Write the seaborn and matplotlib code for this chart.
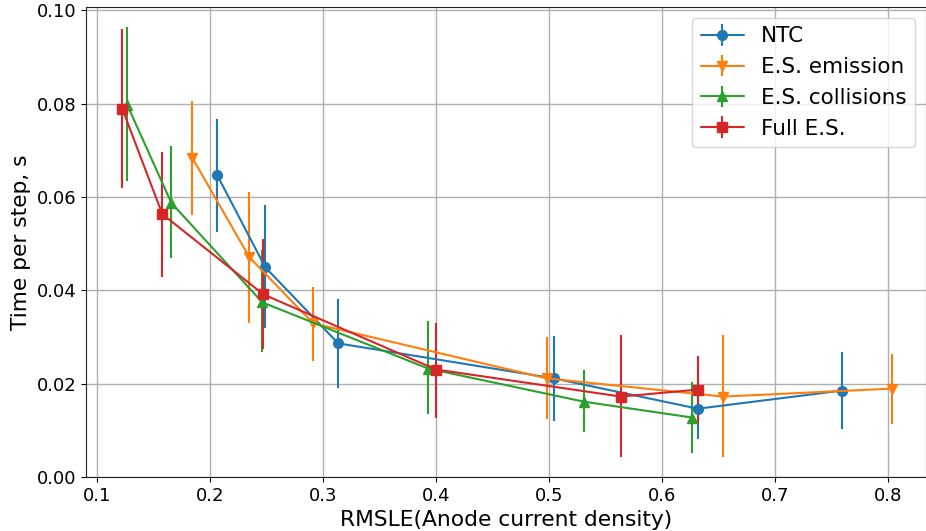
import matplotlib
matplotlib.use("Agg")
import matplotlib.pyplot as plt
import seaborn as sns
import numpy as np

labels = ["NTC", "E.S. emission", "E.S. collisions", "Full E.S."]
markers = ["o", "v", "^", "s"]

ntc_x = [0.206, 0.2487, 0.3133, 0.5044, 0.6319, 0.760]
ntc_y = [0.0647, 0.0449, 0.0286, 0.0211, 0.0146, 0.0185]
ntc_hi = [0.0766, 0.0583, 0.0381, 0.0301, 0.0260, 0.0267]
ntc_lo = [0.0525, 0.0318, 0.0191, 0.0120, 0.0082, 0.0103]

em_x = [0.184, 0.2345, 0.291, 0.498, 0.654, 0.8035]
em_y = [0.0684, 0.0471, 0.0329, 0.0211, 0.0172, 0.0189]
em_hi = [0.0806, 0.0611, 0.0406, 0.0299, 0.0303, 0.0264]
em_lo = [0.0561, 0.0329, 0.0249, 0.0123, 0.0043, 0.0114]

col_x = [0.1266, 0.1655, 0.246, 0.393, 0.531, 0.627]
col_y = [0.0796, 0.0587, 0.0374, 0.0232, 0.0161, 0.0127]
col_hi = [0.0963, 0.0710, 0.0486, 0.0333, 0.0228, 0.0204]
col_lo = [0.0635, 0.0469, 0.0267, 0.0135, 0.0097, 0.0052]

full_x = [0.122, 0.1575, 0.247, 0.400, 0.5637, 0.632]
full_y = [0.0789, 0.0563, 0.0391, 0.0230, 0.0172, 0.0187]
full_hi = [0.0959, 0.0697, 0.0510, 0.0329, 0.0303, 0.0260]
full_lo = [0.0620, 0.0428, 0.0275, 0.0127, 0.0043, 0.0114]

series = [
    (ntc_x, ntc_y, ntc_lo, ntc_hi),
    (em_x, em_y, em_lo, em_hi),
    (col_x, col_y, col_lo, col_hi),
    (full_x, full_y, full_lo, full_hi),
]

sns.set_style("ticks", rc={"text.color": "black", "axes.labelcolor": "black",
                           "xtick.color": "black", "ytick.color": "black",
                           "axes.edgecolor": "#222222"})
plt.rcParams["font.family"] = ["DejaVu Sans"]
colors = sns.color_palette("tab10", 4)

fig = plt.figure(figsize=(9.26, 5.31), dpi=100)
ax = fig.add_axes([0.093, 0.102, 0.907, 0.885])

for (x, y, lo, hi), lab, m, c in zip(series, labels, markers, colors):
    y = np.array(y)
    yerr = np.vstack([y - np.array(lo), np.array(hi) - y])
    ax.errorbar(x, y, yerr=yerr, label=lab, marker=m, color=c,
                markersize=7, linewidth=1.5, elinewidth=1.5)

ax.set_xlim(0.09, 0.834)
ax.set_ylim(0, 0.1007)
ax.set_xticks([0.1, 0.2, 0.3, 0.4, 0.5, 0.6, 0.7, 0.8])
ax.set_yticks([0.0, 0.02, 0.04, 0.06, 0.08, 0.10])
ax.yaxis.set_major_formatter(matplotlib.ticker.FormatStrFormatter("%.2f"))
ax.grid(True, color="#b0b0b0", linewidth=1.0)
ax.tick_params(labelsize=13)
ax.set_xlabel("RMSLE(Anode current density)", fontsize=15.7)
ax.set_ylabel("Time per step, s", fontsize=15.7)
ax.legend(loc="upper right", fontsize=15.5)

fig.savefig("out.png", dpi=100)
